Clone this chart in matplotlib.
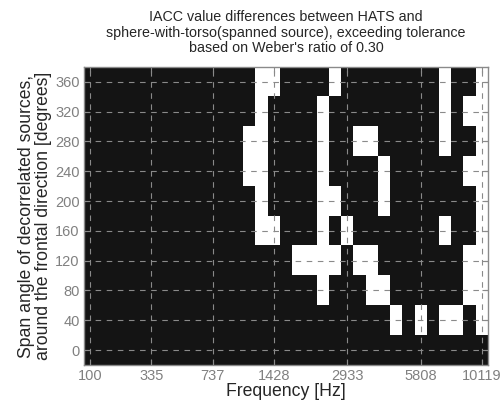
import numpy as np
import matplotlib.pyplot as plt
from matplotlib.colors import ListedColormap

plt.rcParams['font.family'] = ['Liberation Sans', 'DejaVu Sans']

# span angles (rows) and number of frequency bands (columns)
angles = [0, 40, 80, 120, 160, 200, 240, 280, 320, 360]
n_bands = 33

# frequency band indices that get a tick, and their labels in Hz
tick_bands = [0, 5, 10, 15, 21, 27, 32]
tick_freqs = ['100', '335', '737', '1428', '2933', '5808', '10119']

# bands where the IACC difference exceeds the tolerance, per span angle
exceed_0 = []
exceed_40 = [25, 27, 29, 30, 32]
exceed_80 = [19, 23, 24, 31, 32]
exceed_120 = [17, 18, 19, 20, 22, 23, 31, 32]
exceed_160 = [14, 15, 19, 21, 29, 32]
exceed_200 = [14, 19, 20, 24, 32]
exceed_240 = [13, 14, 19, 24, 31, 32]
exceed_280 = [13, 14, 19, 22, 23, 29, 32]
exceed_320 = [14, 19, 29, 31, 32]
exceed_360 = [14, 15, 20, 29, 32]

rows = [exceed_0, exceed_40, exceed_80, exceed_120, exceed_160,
        exceed_200, exceed_240, exceed_280, exceed_320, exceed_360]
mask = np.zeros((len(angles), n_bands))
for r, cols in enumerate(rows):
    mask[r, cols] = 1

fig = plt.figure(figsize=(5.03, 4.08), dpi=100)
ax = fig.add_axes([0.167, 0.1054, 0.803, 0.7306])

cmap = ListedColormap(['#141414', '#ffffff'])
ax.imshow(mask, cmap=cmap, vmin=0, vmax=1, origin='lower', aspect='auto',
          interpolation='nearest',
          extent=[-0.5, n_bands - 0.5, angles[0] - 20, angles[-1] + 20])

ax.set_xticks(tick_bands)
ax.set_xticklabels(tick_freqs)
ax.set_yticks(angles)
ax.set_xlim(-0.5, n_bands - 0.5)
ax.set_ylim(angles[0] - 20, angles[-1] + 20)

ax.grid(True, color='#8a8a8a', linestyle=(0, (5, 5)), linewidth=0.8)
ax.tick_params(direction='in', top=True, right=True, length=4,
               color='#8a8a8a', labelcolor='#808080', labelsize=10.5, pad=3)
for s in ax.spines.values():
    s.set_color('#8a8a8a')
    s.set_linewidth(1.0)

ax.set_xlabel('Frequency [Hz]', fontsize=12.7, color='#262626', labelpad=0)
ax.set_ylabel('Span angle of decorrelated sources,\naround the frontal direction [degrees]',
              fontsize=12.7, color='#262626', labelpad=2, linespacing=1.0)
ax.set_title("IACC value differences between HATS and\n"
             "sphere-with-torso(spanned source), exceeding tolerance\n"
             "based on Weber's ratio of 0.30",
             fontsize=10.3, color='#262626', pad=11, linespacing=1.1)

fig.savefig('out.png', dpi=100)
